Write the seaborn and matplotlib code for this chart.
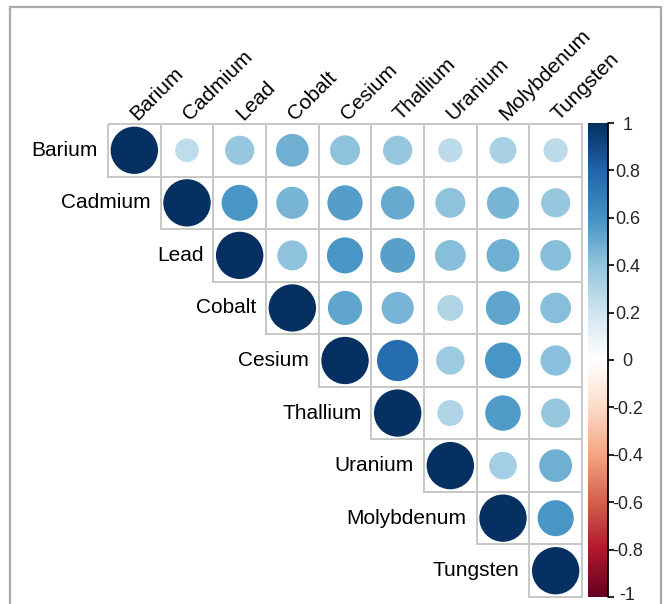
import numpy as np
import matplotlib
matplotlib.use("Agg")
import matplotlib.pyplot as plt
from matplotlib.colors import LinearSegmentedColormap, ListedColormap, Normalize, to_rgba
from matplotlib.cm import ScalarMappable
from matplotlib.patches import Circle, Rectangle
from matplotlib.transforms import ScaledTranslation
import seaborn as sns

# Metals, in display order
metals = ["Barium", "Cadmium", "Lead", "Cobalt", "Cesium",
          "Thallium", "Uranium", "Molybdenum", "Tungsten"]

# Upper-triangle correlations of each metal with the metals listed after it
r_barium = [0.25, 0.38, 0.48, 0.40, 0.38, 0.26, 0.32, 0.26]
r_cadmium = [0.58, 0.46, 0.55, 0.50, 0.40, 0.46, 0.38]
r_lead = [0.40, 0.58, 0.54, 0.42, 0.48, 0.42]
r_cobalt = [0.52, 0.46, 0.30, 0.52, 0.42]
r_cesium = [0.76, 0.36, 0.58, 0.41]
r_thallium = [0.30, 0.56, 0.38]
r_uranium = [0.34, 0.48]
r_molybdenum = [0.58]

colorbar_ticks = [1, 0.8, 0.6, 0.4, 0.2, 0, -0.2, -0.4, -0.6, -0.8, -1]

rows = [r_barium, r_cadmium, r_lead, r_cobalt, r_cesium,
        r_thallium, r_uranium, r_molybdenum, []]
n = len(metals)
corr = np.eye(n)
for i, vals in enumerate(rows):
    for k, v in enumerate(vals):
        corr[i, i + 1 + k] = v
        corr[i + 1 + k, i] = v

# Red-white-blue diverging palette
cmap = LinearSegmentedColormap.from_list(
    "rdbu2",
    ["#67001F", "#B2182B", "#D6604D", "#F4A582", "#FDDBC7", "#FFFFFF",
     "#D1E5F0", "#92C5DE", "#4393C3", "#2166AC", "#053061"], N=200)
norm = Normalize(vmin=-1, vmax=1)

sns.set_style("white")
plt.rcParams["font.family"] = ["Liberation Sans", "DejaVu Sans"]

W, H = 664, 604
fig = plt.figure(figsize=(W / 100, H / 100), dpi=100)
fig.patch.set_facecolor("white")

ax = fig.add_axes([108 / W, 1 - 597 / H, 474 / W, 473 / H])

# Cell grid for the upper triangle (diagonal included)
lower = np.tril(np.ones((n, n), dtype=bool), k=-1)
sns.heatmap(np.zeros((n, n)), mask=lower, cmap=ListedColormap(["white"]),
            cbar=False, linewidths=1.2, linecolor="#c8c8c8",
            xticklabels=False, yticklabels=False, ax=ax)
mesh = ax.collections[0]
grid_rgba = to_rgba("#c8c8c8")
edge = [(0, 0, 0, 0) if lower.ravel()[k] else grid_rgba for k in range(n * n)]
mesh.set_edgecolors(edge)
mesh.set_clip_on(False)
ax.set_xlim(0, n)
ax.set_ylim(n, 0)
for s in ax.spines.values():
    s.set_visible(False)

# Circles: area proportional to |r|, colour by r
for i in range(n):
    for j in range(i, n):
        v = corr[i, j]
        ax.add_patch(Circle((j + 0.5, i + 0.5), 0.45 * np.sqrt(abs(v)),
                            facecolor=cmap(norm(v)), edgecolor="none",
                            zorder=3))

# Row labels along the diagonal
for i, name in enumerate(metals):
    ax.text(i - 0.19, i + 0.5, name, ha="right", va="center",
            fontsize=15, color="black")

# Column labels along the top, rotated
for j, name in enumerate(metals):
    ax.text(j + 0.56, -0.05, name, rotation=45, rotation_mode="anchor",
            ha="left", va="baseline", fontsize=15, color="black",
            clip_on=False)

# Colour bar
cax = fig.add_axes([588 / W, 1 - 597 / H, 20 / W, 474 / H])
cb = fig.colorbar(ScalarMappable(norm=norm, cmap=cmap), cax=cax)
cb.outline.set_visible(False)
cax.axvline(1, color="black", lw=1.3, clip_on=False)
cb.set_ticks(colorbar_ticks)
cb.set_ticklabels([("%g" % t) for t in colorbar_ticks])
cax.yaxis.set_tick_params(length=4, width=1.2, color="black",
                          pad=10, labelsize=13)
for lab in cax.get_yticklabels():
    lab.set_horizontalalignment("center")
# keep the bottom label inside the canvas
bottom_lab = [lab for lab in cax.get_yticklabels() if lab.get_text() == "-1"]
for lab in bottom_lab:
    lab.set_transform(lab.get_transform() +
                      ScaledTranslation(0, 4 / 100, fig.dpi_scale_trans))

# Outer frame
fig.add_artist(Rectangle((10 / W, -0.05), (661 - 10) / W, 1.05 - 7 / H,
                         transform=fig.transFigure, fill=False,
                         edgecolor="#a8a8a8", lw=1.6))

fig.savefig("out.png", dpi=100)
